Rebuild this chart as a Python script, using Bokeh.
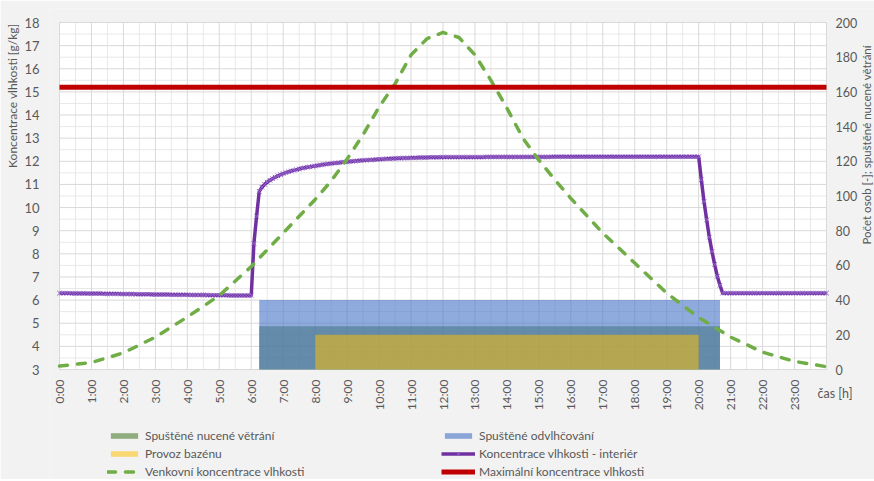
import math
from bokeh.plotting import figure
from bokeh.models import Range1d, FixedTicker, Legend, LegendItem, Title
from bokeh.core.properties import value
from bokeh.embed import file_html
from bokeh.resources import INLINE

# ---------------- data ----------------
hour_ticks = list(range(0, 24))
hour_labels = ["0:00", "1:00", "2:00", "3:00", "4:00", "5:00", "6:00", "7:00",
               "8:00", "9:00", "10:00", "11:00", "12:00", "13:00", "14:00", "15:00",
               "16:00", "17:00", "18:00", "19:00", "20:00", "21:00", "22:00", "23:00"]
grid_hours = list(range(0, 25))
grid_half_hours = [h + 0.5 for h in range(0, 24)]
left_ticks = list(range(3, 19))
left_half = [v + 0.5 for v in range(3, 18)]
right_ticks = [0, 20, 40, 60, 80, 100, 120, 140, 160, 180, 200]
right_labels = [str(v) for v in right_ticks]

# interior humidity concentration, 5-minute samples 0:00 .. 24:00 [g/kg]
interior_t = [m / 60 for m in range(0, 24 * 60 + 1, 5)]
interior_v = [
    6.30, 6.30, 6.30, 6.30, 6.30, 6.29, 6.29, 6.29, 6.29, 6.29, 6.29, 6.28,   # 0
    6.28, 6.28, 6.28, 6.28, 6.28, 6.27, 6.27, 6.27, 6.27, 6.27, 6.27, 6.26,   # 1
    6.26, 6.26, 6.26, 6.26, 6.26, 6.25, 6.25, 6.25, 6.25, 6.25, 6.25, 6.24,   # 2
    6.24, 6.24, 6.24, 6.24, 6.24, 6.24, 6.23, 6.23, 6.23, 6.23, 6.23, 6.23,   # 3
    6.23, 6.22, 6.22, 6.22, 6.22, 6.22, 6.22, 6.22, 6.21, 6.21, 6.21, 6.21,   # 4
    6.21, 6.21, 6.21, 6.21, 6.20, 6.20, 6.20, 6.20, 6.20, 6.20, 6.20, 6.20,   # 5
    6.20, 8.45, 9.62, 10.70, 10.88, 11.00, 11.10, 11.18, 11.25, 11.31, 11.37, 11.42,  # 6
    11.47, 11.51, 11.55, 11.58, 11.61, 11.64, 11.67, 11.70, 11.72, 11.74, 11.76, 11.78,  # 7
    11.80, 11.82, 11.84, 11.86, 11.87, 11.89, 11.90, 11.92, 11.93, 11.94, 11.96, 11.97,  # 8
    11.98, 11.99, 12.00, 12.01, 12.02, 12.03, 12.04, 12.05, 12.06, 12.06, 12.07, 12.08,  # 9
    12.09, 12.09, 12.10, 12.11, 12.11, 12.12, 12.12, 12.13, 12.13, 12.14, 12.14, 12.14,  # 10
    12.15, 12.15, 12.15, 12.16, 12.16, 12.16, 12.16, 12.17, 12.17, 12.17, 12.17, 12.17,  # 11
    12.18, 12.18, 12.18, 12.18, 12.18, 12.18, 12.18, 12.18, 12.18, 12.18, 12.18, 12.18,  # 12
    12.18, 12.18, 12.18, 12.18, 12.19, 12.19, 12.19, 12.19, 12.19, 12.19, 12.19, 12.19,  # 13
    12.19, 12.19, 12.19, 12.19, 12.19, 12.19, 12.19, 12.19, 12.19, 12.19, 12.19, 12.19,  # 14
    12.19, 12.19, 12.19, 12.19, 12.19, 12.20, 12.20, 12.20, 12.20, 12.20, 12.20, 12.20,  # 15
    12.20, 12.20, 12.20, 12.20, 12.20, 12.20, 12.20, 12.20, 12.20, 12.20, 12.20, 12.20,  # 16
    12.20, 12.20, 12.20, 12.20, 12.20, 12.20, 12.20, 12.20, 12.20, 12.20, 12.20, 12.20,  # 17
    12.20, 12.20, 12.20, 12.20, 12.20, 12.20, 12.20, 12.20, 12.20, 12.20, 12.20, 12.20,  # 18
    12.20, 12.20, 12.20, 12.20, 12.20, 12.20, 12.20, 12.20, 12.20, 12.20, 12.20, 12.20,  # 19
    12.20, 11.20, 10.26, 9.47, 8.72, 8.10, 7.54, 7.03, 6.64, 6.30, 6.30, 6.30,           # 20
    6.30, 6.30, 6.30, 6.30, 6.30, 6.30, 6.30, 6.30, 6.30, 6.30, 6.30, 6.30,   # 21
    6.30, 6.30, 6.30, 6.30, 6.30, 6.30, 6.30, 6.30, 6.30, 6.30, 6.30, 6.30,   # 22
    6.30, 6.30, 6.30, 6.30, 6.30, 6.30, 6.30, 6.30, 6.30, 6.30, 6.30, 6.30,   # 23
    6.30,                                                                     # 24:00
]

# outdoor humidity concentration [g/kg]
outdoor_t = [0, 1, 2, 3, 4, 5, 6, 7, 8, 8.5, 9, 9.5, 10, 10.5, 11, 11.5, 12, 12.5,
             13, 13.5, 14, 14.5, 15, 15.5, 16, 17, 18, 19, 20, 21, 22, 23, 24]
outdoor_v = [3.15, 3.30, 3.72, 4.40, 5.27, 6.20, 7.45, 8.90, 10.35, 11.15, 12.10, 13.15,
             14.35, 15.35, 16.60, 17.30, 17.57, 17.35, 16.60, 15.50, 14.30, 13.00, 12.05,
             11.20, 10.40, 8.90, 7.60, 6.30, 5.25, 4.40, 3.75, 3.35, 3.12]

# maximum allowed concentration [g/kg]
max_t = [0, 24]
max_v = [15.2, 15.2]

# right-axis series (persons / on-off levels)
vent_on, vent_off, vent_level = [6.25], [20.667], [25]        # forced ventilation
dehum_on, dehum_off, dehum_level = [6.25], [20.667], [40]     # dehumidification
pool_on, pool_off, pool_level = [8.0], [20.0], [20]           # pool operation (persons)

# axis limits of the plot area
X_MIN, X_MAX = 0, 24
Y_MIN, Y_MAX = 3, 18
P_MIN, P_MAX = 0, 200

# ---------------- layout (pixels) ----------------
W, H = 874, 479
FRAME_LEFT, FRAME_TOP = 49, 8          # frame covers the rest of the canvas
AREA_L, AREA_R, AREA_T, AREA_B = 59, 826, 22, 369   # plot area in canvas pixels

sx = (AREA_R - AREA_L) / (X_MAX - X_MIN)
sy = (AREA_B - AREA_T) / (Y_MAX - Y_MIN)
x_lo = X_MIN - (AREA_L - FRAME_LEFT) / sx
x_hi = X_MAX + (W - AREA_R) / sx
y_hi = Y_MAX + (AREA_T - FRAME_TOP) / sy
y_lo = Y_MIN - (H - AREA_B) / sy
k = (P_MAX - P_MIN) / (Y_MAX - Y_MIN)
p_lo, p_hi = P_MIN + (y_lo - Y_MIN) * k, P_MIN + (y_hi - Y_MIN) * k

FONT = "Lato"
TXT = "#595959"
GRID = "#d9d9d9"
GRID_MINOR = "#e8e8e8"

p = figure(width=W, height=H, output_backend="svg", toolbar_location=None,
           x_range=Range1d(x_lo, x_hi), y_range=Range1d(y_lo, y_hi),
           x_axis_location=None,
           min_border_left=FRAME_LEFT, min_border_right=0,
           min_border_top=FRAME_TOP, min_border_bottom=0,
           background_fill_color="#f2f2f2", border_fill_color="#f2f2f2")
p.outline_line_color = None
p.grid.visible = False
p.extra_y_ranges = {"persons": Range1d(p_lo, p_hi)}

# left axis (real axis)
ya = p.yaxis[0]
ya.ticker = FixedTicker(ticks=left_ticks)
ya.axis_line_color = None
ya.major_tick_line_color = None
ya.minor_tick_line_color = None
ya.major_label_standoff = 4
ya.major_label_text_font = FONT
ya.major_label_text_font_size = "13px"
ya.major_label_text_color = TXT
p.add_layout(Title(text="Koncentrace vlhkosti [g/kg]", align="right", offset=15, standoff=4,
                   text_font=FONT, text_font_size="12px", text_font_style="normal",
                   text_color=TXT), "left")

# plot area background and grid
p.quad(left=[X_MIN], right=[X_MAX], bottom=[Y_MIN], top=[Y_MAX],
       fill_color="white", line_color=None)
p.segment(x0=grid_half_hours, y0=Y_MIN, x1=grid_half_hours, y1=Y_MAX,
          line_color=GRID_MINOR, line_width=1)
p.segment(x0=X_MIN, y0=left_half, x1=X_MAX, y1=left_half,
          line_color=GRID_MINOR, line_width=1)
p.segment(x0=grid_hours, y0=Y_MIN, x1=grid_hours, y1=Y_MAX,
          line_color=GRID, line_width=1)
p.segment(x0=X_MIN, y0=left_ticks, x1=X_MAX, y1=left_ticks,
          line_color=GRID, line_width=1)

# areas (right axis)
r_vent = p.quad(left=vent_on, right=vent_off, bottom=P_MIN, top=vent_level, y_range_name="persons",
                fill_color="#548235", fill_alpha=0.62, line_alpha=0)
r_dehum = p.quad(left=dehum_on, right=dehum_off, bottom=P_MIN, top=dehum_level, y_range_name="persons",
                 fill_color="#4472c4", fill_alpha=0.6, line_alpha=0)
r_pool = p.quad(left=pool_on, right=pool_off, bottom=P_MIN, top=pool_level, y_range_name="persons",
                fill_color="#ffc000", fill_alpha=0.52, line_alpha=0)

# lines
r_in_line = p.line(interior_t, interior_v, line_color="#7030a0", line_width=3.5)
r_in_pts = p.scatter(interior_t, interior_v, marker="x", size=6.5,
                     line_color="#9364c9", line_width=1)
r_out = p.line(outdoor_t, outdoor_v, line_color="#70ad47", line_width=3.5,
               line_dash="8 10", line_cap="round")
r_max = p.line(max_t, max_v, line_color="#c00000", line_width=5)

# hour labels under the plot area and the x title
p.text(x=hour_ticks, y=Y_MIN, text=hour_labels, angle=math.pi / 2,
       text_align="right", text_baseline="middle", y_offset=10,
       text_font=value(FONT), text_font_size="12px", text_color=TXT)
p.text(x=[X_MAX], y=[Y_MIN], text=["čas [h]"], x_offset=-9, y_offset=24,
       text_align="left", text_baseline="middle",
       text_font=value(FONT), text_font_size="12.5px", text_color=TXT)

# right axis: tick labels and title
p.text(x=X_MAX, y=right_ticks, text=right_labels, y_range_name="persons",
       x_offset=9, text_align="left", text_baseline="middle",
       text_font=value(FONT), text_font_size="12.5px", text_color=TXT)
p.text(x=[X_MAX], y=[P_MIN], text=["Počet osob [-]; spuštěné nucené větrání"],
       y_range_name="persons", angle=math.pi / 2, x_offset=40, y_offset=-125,
       text_align="left", text_baseline="middle",
       text_font=value(FONT), text_font_size="11.5px", text_color=TXT)


# legends (two columns below the plot area)
def make_legend(items, x):
    return Legend(items=items, location=(x, 0), orientation="vertical",
                  glyph_width=34, glyph_height=7, label_height=15, spacing=3,
                  label_standoff=4, padding=0, margin=0,
                  background_fill_alpha=0, border_line_alpha=0,
                  label_text_font=FONT, label_text_font_size="12px",
                  label_text_color=TXT)


p.add_layout(make_legend([
    LegendItem(label="Spuštěné nucené větrání", renderers=[r_vent]),
    LegendItem(label="Provoz bazénu", renderers=[r_pool]),
    LegendItem(label="Venkovní koncentrace vlhkosti", renderers=[r_out]),
], 107 - FRAME_LEFT))
p.add_layout(make_legend([
    LegendItem(label="Spuštěné odvlhčování", renderers=[r_dehum]),
    LegendItem(label="Koncentrace vlhkosti - interiér", renderers=[r_in_line, r_in_pts]),
    LegendItem(label="Maximální koncentrace vlhkosti", renderers=[r_max]),
], 441 - FRAME_LEFT))

open("out.html", "w").write(file_html(p, INLINE))
